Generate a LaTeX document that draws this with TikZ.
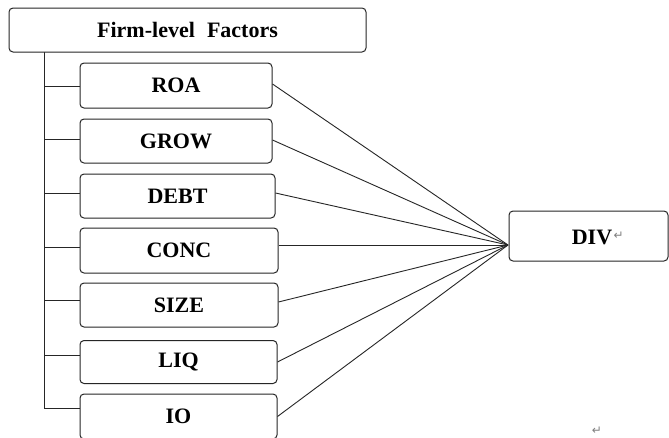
\documentclass[tikz,border=0pt]{standalone}
\usepackage{fontspec}
\setmainfont{Liberation Serif}
\newfontfamily\symfont{DejaVu Sans}
\begin{document}
\begin{tikzpicture}[x=1pt,y=-1pt,
  box/.style={draw=black!85, line width=1pt, rounded corners=4pt, fill=white, inner sep=0pt,
    font=\fontsize{22}{26}\selectfont\bfseries},
  link/.style={draw=black!85, line width=0.9pt},
  parmark/.style={text=black!50, font=\symfont\fontsize{12}{14}\selectfont, inner sep=0pt}]
\useasboundingbox (0,0) rectangle (669,437);
\clip (0,0) rectangle (669,437);
\fill[white] (0,0) rectangle (669,437);
% trunk
\coordinate (trunktop) at (44,52);
\coordinate (trunkbot) at (44,408);
\draw[link] (trunktop) -- (trunkbot);
% top box
\node[box, minimum width=357pt, minimum height=44pt] (top) at (187.5,30) {Firm-level\hspace{0.3em} Factors};
% factor boxes
\node[box, minimum width=192pt, minimum height=45pt] (roa)  at (176,85.5)  {ROA};
\node[box, minimum width=192pt, minimum height=44pt] (grow) at (176,141)   {GROW};
\node[box, minimum width=195pt, minimum height=44pt] (debt) at (177.5,196) {DEBT};
\node[box, minimum width=198pt, minimum height=45pt] (conc) at (179,250.5) {CONC};
\node[box, minimum width=198pt, minimum height=44pt] (size) at (179,305)   {SIZE};
\node[box, minimum width=197pt, minimum height=43pt] (liq)  at (178.5,362) {LIQ};
\node[box, minimum width=197pt, minimum height=45pt] (io)   at (178.5,416.5) {IO};
% DIV box
\node[box, minimum width=159pt, minimum height=50pt] (div) at (588.5,236) {};
\node[font=\fontsize{22}{26}\selectfont\bfseries, inner sep=0pt] (divt) at (592,237) {DIV};
\node[parmark, anchor=west] (divm) at ([xshift=1pt,yshift=1pt]divt.east) {↵};
\node[parmark] (endm) at (597,431) {↵};
% branches
\coordinate (b1) at (44,86);
\coordinate (b2) at (44,139);
\coordinate (b3) at (44,193);
\coordinate (b4) at (44,247);
\coordinate (b5) at (44,300);
\coordinate (b6) at (44,355);
\coordinate (b7) at (44,408);
\draw[link] (b1) -- (b1 -| roa.west);
\draw[link] (b2) -- (b2 -| grow.west);
\draw[link] (b3) -- (b3 -| debt.west);
\draw[link] (b4) -- (b4 -| conc.west);
\draw[link] (b5) -- (b5 -| size.west);
\draw[link] (b6) -- (b6 -| liq.west);
\draw[link] (b7) -- (b7 -| io.west);
% hub
\coordinate (hub) at (508,245);
\draw[link] ([yshift=1.5pt]roa.east) -- (hub);
\draw[link] ([yshift=1pt]grow.east) -- (hub);
\draw[link] ([yshift=3pt]debt.east) -- (hub);
\draw[link] (conc.east |- hub) -- (hub);
\draw[link] ([yshift=3pt]size.east) -- (hub);
\draw[link] (liq.east) -- (hub);
\draw[link] (io.east) -- (hub);
\end{tikzpicture}
\end{document}
